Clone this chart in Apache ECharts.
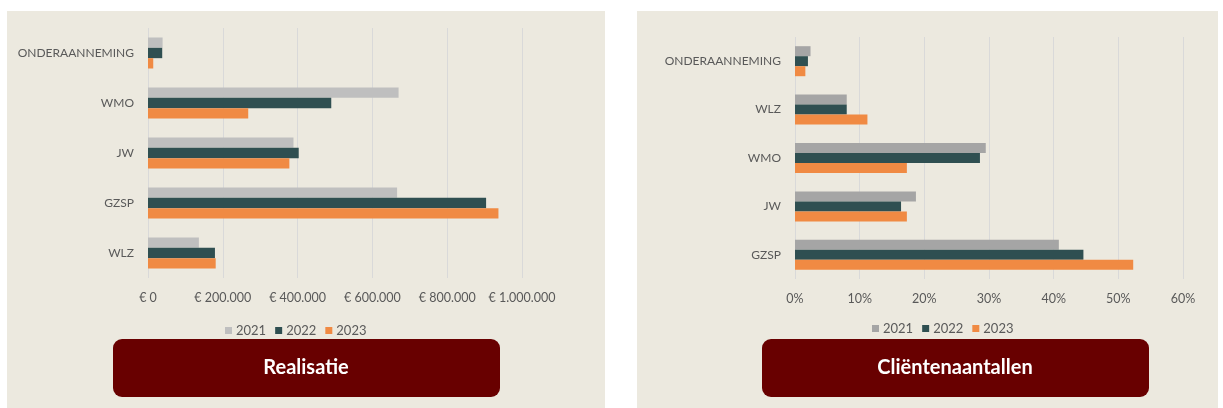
<!DOCTYPE html>
<html>
<head>
<meta charset="utf-8">
<script src="https://cdn.jsdelivr.net/npm/echarts@6/dist/echarts.min.js"></script>
<style>
  body { margin: 0; background: #ffffff; width: 1223px; height: 408px; position: relative; overflow: hidden; }
  .panel { position: absolute; background: #ECE9DF; }
  #realisatie { left: 7px; top: 11px; width: 598px; height: 397px; }
  #clienten { left: 637px; top: 11px; width: 581px; height: 397px; }
</style>
</head>
<body>
<div id="realisatie" class="panel"></div>
<div id="clienten" class="panel"></div>
<script>
// Realisatie (euro), categories top to bottom
const realCategories = ['ONDERAANNEMING', 'WMO', 'JW', 'GZSP', 'WLZ'];
const real2021 = [39000, 670000, 389000, 666000, 136000];
const real2022 = [38000, 490000, 403000, 904000, 179000];
const real2023 = [14000, 268000, 378000, 937000, 181000];

// Cliëntenaantallen (percent), categories top to bottom
const clientCategories = ['ONDERAANNEMING', 'WLZ', 'WMO', 'JW', 'GZSP'];
const client2021 = [2.4, 8.0, 29.5, 18.7, 40.8];
const client2022 = [2.0, 8.0, 28.6, 16.4, 44.6];
const client2023 = [1.6, 11.2, 17.3, 17.3, 52.3];

const years = ['2021', '2022', '2023'];

const font = 'Lato, "Open Sans", sans-serif';
const labelColor = '#595959';

function euro(v) {
  return '€ ' + String(v).replace(/\B(?=(\d{3})+(?!\d))/g, '.');
}

function makeOption(cfg) {
  const series = cfg.data.map((d, i) => ({
    name: years[i],
    type: 'bar',
    data: d,
    itemStyle: { color: cfg.colors[i] },
    barGap: '0%',
    barCategoryGap: '38%'
  }));
  return {
    animation: false,
    textStyle: { fontFamily: font },
    grid: cfg.grid,
    legend: {
      data: years,
      left: cfg.legendLeft,
      top: cfg.legendTop,
      icon: 'rect',
      itemWidth: 7,
      itemHeight: 7,
      itemGap: 9,
      textStyle: { color: labelColor, fontSize: 13, fontFamily: font, padding: [0, 0, 0, -1] }
    },
    xAxis: {
      type: 'value',
      min: 0,
      max: cfg.max,
      interval: cfg.interval,
      axisLine: { show: false },
      axisTick: { show: false },
      splitLine: { lineStyle: { color: '#D9D9D9', width: 1 } },
      axisLabel: { color: labelColor, fontSize: 12.5, margin: 13, formatter: cfg.fmt }
    },
    yAxis: {
      type: 'category',
      inverse: true,
      data: cfg.categories,
      axisLine: { show: false },
      axisTick: { show: false },
      axisLabel: { color: labelColor, fontSize: 12, margin: 14 }
    },
    graphic: [
      {
        type: 'rect',
        left: cfg.boxLeft,
        top: 328,
        shape: { width: 387, height: 58, r: 9 },
        style: { fill: '#680000' }
      },
      {
        type: 'text',
        x: cfg.boxLeft + 193,
        y: 357,
        style: {
          text: cfg.title, fill: '#ffffff', font: 'bold 20px ' + font,
          align: 'center', verticalAlign: 'middle'
        }
      }
    ],
    series: series
  };
}

const c1 = echarts.init(document.getElementById('realisatie'));
c1.setOption(makeOption({
  categories: realCategories,
  data: [real2021, real2022, real2023],
  colors: ['#BFBFBF', '#2F4F51', '#F08A43'],
  grid: { left: 141, right: 83, top: 17, bottom: 130 },
  max: 1000000,
  interval: 200000,
  fmt: euro,
  legendLeft: 213,
  legendTop: 308,
  boxLeft: 106,
  title: 'Realisatie'
}));

const c2 = echarts.init(document.getElementById('clienten'));
c2.setOption(makeOption({
  categories: clientCategories,
  data: [client2021, client2022, client2023],
  colors: ['#A5A5A5', '#2F4F51', '#F08A43'],
  grid: { left: 158, right: 35, top: 26, bottom: 129 },
  max: 60,
  interval: 10,
  fmt: v => v + '%',
  legendLeft: 230,
  legendTop: 306,
  boxLeft: 125,
  title: 'Cliëntenaantallen'
}));
</script>
</body>
</html>
